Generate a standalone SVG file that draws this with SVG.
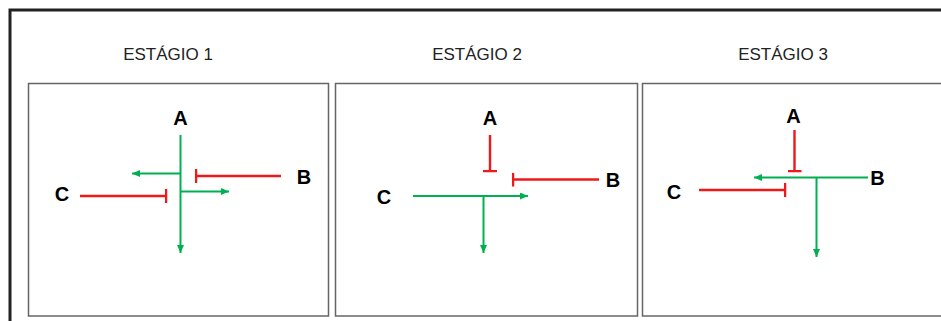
<svg xmlns="http://www.w3.org/2000/svg" width="941" height="321" viewBox="0 0 941 321">
<style>
.frame{fill:none;stroke:#222;stroke-width:3}
.panel{fill:#fff;stroke:#666;stroke-width:1.5}
.title{font-family:"Liberation Sans",Arial,sans-serif;font-size:17px;fill:#222;text-anchor:middle}
.lbl{font-family:"Liberation Sans",Arial,sans-serif;font-size:20px;font-weight:bold;fill:#000;text-anchor:middle}
.act{fill:none;stroke:#00B050;stroke-width:2;marker-end:url(#arrow)}
.inh{fill:none;stroke:#F01818;stroke-width:2.4;marker-end:url(#tee)}
</style>
<defs>
<marker id="arrow" markerUnits="userSpaceOnUse" markerWidth="8" markerHeight="7" refX="8" refY="3.5" orient="auto">
<path d="M0,0 L8,3.5 L0,7 z" fill="#00B050"/>
</marker>
<marker id="tee" markerUnits="userSpaceOnUse" markerWidth="3" markerHeight="14" refX="1.5" refY="7" orient="auto">
<path d="M1.5,0 V14" stroke="#F01818" stroke-width="2.5"/>
</marker>
</defs>
<rect width="941" height="321" fill="#fff"/>
<path class="frame" d="M10,321 V10 H941"/>
<g id="panel1">
<rect class="panel" x="28.5" y="83.5" width="300" height="232.5"/>
<text class="title" x="168" y="60">ESTÁGIO 1</text>
</g>
<g id="panel2">
<rect class="panel" x="335.5" y="83.5" width="302" height="232.5"/>
<text class="title" x="477" y="60">ESTÁGIO 2</text>
</g>
<g id="panel3">
<rect class="panel" x="642.5" y="83.5" width="310" height="232.5"/>
<text class="title" x="783" y="60">ESTÁGIO 3</text>
</g>
<g id="s1-A"><text class="lbl" x="180.5" y="125">A</text></g>
<g id="s1-B"><text class="lbl" x="304" y="184">B</text></g>
<g id="s1-C"><text class="lbl" x="62" y="201">C</text></g>
<g id="s2-A"><text class="lbl" x="490" y="125">A</text></g>
<g id="s2-B"><text class="lbl" x="613" y="187">B</text></g>
<g id="s2-C"><text class="lbl" x="384" y="204">C</text></g>
<g id="s3-A"><text class="lbl" x="793.5" y="123">A</text></g>
<g id="s3-B"><text class="lbl" x="877.5" y="184.5">B</text></g>
<g id="s3-C"><text class="lbl" x="674" y="198.5">C</text></g>
<g id="connectors">
<path class="act" d="M180.5,135 V253"/>
<path class="act" d="M180.5,173.5 H132"/>
<path class="act" d="M180.5,191.5 H229"/>
<path class="inh" d="M281,176 H196"/>
<path class="inh" d="M80,196 H166"/>
<path class="inh" d="M490,135 V171"/>
<path class="inh" d="M599,179.5 H513"/>
<path class="act" d="M413,196 H528"/>
<path class="act" d="M483.5,196 V253"/>
<path class="inh" d="M794.5,130 V171"/>
<path class="act" d="M868,177.5 H754"/>
<path class="act" d="M816.5,177.5 V257"/>
<path class="inh" d="M699,190 H785"/>
</g>
</svg>
